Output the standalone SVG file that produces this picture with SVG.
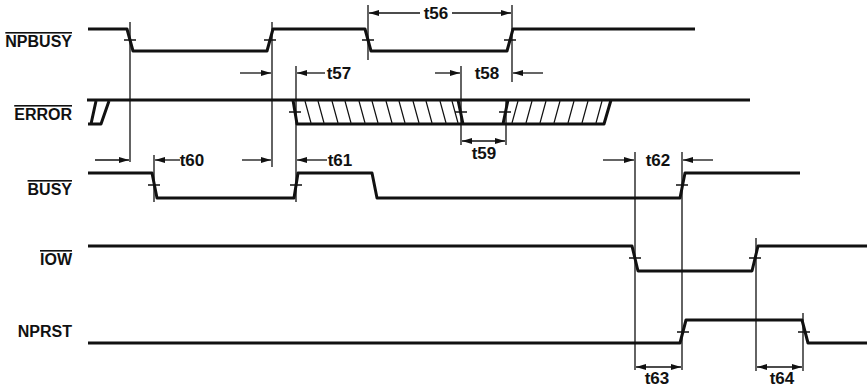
<svg xmlns="http://www.w3.org/2000/svg" width="867" height="391" viewBox="0 0 867 391">
<style>
.sig{fill:none;stroke:#111;stroke-width:3;stroke-linejoin:round;stroke-linecap:butt}
.thin{fill:none;stroke:#111;stroke-width:1.3}
.tick{fill:none;stroke:#111;stroke-width:1.7}
.hatch{fill:none;stroke:#111;stroke-width:1.2}
.arr{fill:none;stroke:#111;stroke-width:1.3}
.name{font-family:"Liberation Sans",Arial,sans-serif;font-weight:bold;font-size:16px;fill:#111;text-anchor:end}
.ov{text-decoration:overline}
.tl{font-family:"Liberation Sans",Arial,sans-serif;font-weight:bold;font-size:17px;fill:#111;text-anchor:middle}
</style>
<defs>
<marker id="ah" viewBox="0 0 10 6" refX="10" refY="3" markerWidth="10" markerHeight="6" markerUnits="userSpaceOnUse" orient="auto-start-reverse">
<path d="M0,0 L10,3 L0,6 Z" fill="#111"/>
</marker>
</defs>
<rect width="867" height="391" fill="#fff"/>

<g id="npbusy">
<text class="name ov" x="72" y="47">NPBUSY</text>
<path class="sig" d="M88,29 H127 L133,51 H267 L273,29 H365 L371,51 H507 L513,29 H695"/>
<path class="tick" d="M124,40 H136 M264,40 H276 M362,40 H374 M504,40 H516"/>
</g>

<g id="error">
<text class="name ov" x="72" y="120">ERROR</text>
<path class="sig" d="M87,100 H750"/>
<path class="sig" stroke-width="2.5" d="M88,124 H101 L109,101 M96,101 L91,124"/>
<path class="sig" d="M293,100 L297,124 H503 L508,100 M458,100 L463,124 M503,124 H604 L611,100"/>
<path class="hatch" d="M305,101 L311,123 M318,101 L324,123 M332,101 L338,123 M345,101 L351,123 M359,101 L365,123 M372,101 L378,123 M386,101 L392,123 M399,101 L405,123 M413,101 L419,123 M426,101 L432,123 M440,101 L446,123 M452,101 L458,123"/>
<path class="hatch" d="M518,101 L512,123 M532,101 L526,123 M546,101 L540,123 M560,101 L554,123 M574,101 L568,123 M588,101 L582,123 M602,101 L596,123"/>
<path class="tick" d="M289,112 H301 M455,112 H467 M499,112 H511"/>
</g>

<g id="busy">
<text class="name ov" x="72" y="195">BUSY</text>
<path class="sig" d="M88,173 H152 L157,198 H294 L298,173 H372 L377,198 H680 L685,173 H800"/>
<path class="tick" d="M148,185 H160 M290,185 H302 M676,185 H688"/>
</g>

<g id="iow">
<text class="name ov" x="72" y="265">IOW</text>
<path class="sig" d="M88,246 H632 L638,271 H752 L758,246 H867"/>
<path class="tick" d="M629,258 H641 M749,258 H761"/>
</g>

<g id="nprst">
<text class="name" x="72" y="337">NPRST</text>
<path class="sig" d="M88,343 H680 L686,320 H802 L808,343 H867"/>
<path class="tick" d="M677,332 H689 M798,332 H810"/>
</g>

<g id="connectors">
<path class="thin" d="M130,22 V162 M272,22 V167 M296,66 V202 M368,5 V60 M512,5 V82 M461,66 V145 M506,100 V145 M154,155 V202 M635,152 V370 M682,152 V370 M756,238 V371 M803,313 V371"/>
<line class="arr" x1="420" y1="13" x2="369" y2="13" marker-end="url(#ah)"/>
<line class="arr" x1="452" y1="13" x2="511" y2="13" marker-end="url(#ah)"/>
<line class="arr" x1="240" y1="73" x2="271" y2="73" marker-end="url(#ah)"/>
<line class="arr" x1="325" y1="73" x2="297" y2="73" marker-end="url(#ah)"/>
<line class="arr" x1="435" y1="73" x2="460" y2="73" marker-end="url(#ah)"/>
<line class="arr" x1="543" y1="73" x2="513" y2="73" marker-end="url(#ah)"/>
<line class="arr" x1="462" y1="141" x2="505" y2="141" marker-start="url(#ah)" marker-end="url(#ah)"/>
<line class="arr" x1="95" y1="160" x2="129" y2="160" marker-end="url(#ah)"/>
<line class="arr" x1="180" y1="160" x2="155" y2="160" marker-end="url(#ah)"/>
<line class="arr" x1="242" y1="160" x2="271" y2="160" marker-end="url(#ah)"/>
<line class="arr" x1="327" y1="160" x2="297" y2="160" marker-end="url(#ah)"/>
<line class="arr" x1="603" y1="160" x2="634" y2="160" marker-end="url(#ah)"/>
<line class="arr" x1="713" y1="160" x2="683" y2="160" marker-end="url(#ah)"/>
<line class="arr" x1="636" y1="367" x2="681" y2="367" marker-start="url(#ah)" marker-end="url(#ah)"/>
<line class="arr" x1="757" y1="367" x2="802" y2="367" marker-start="url(#ah)" marker-end="url(#ah)"/>
</g>

<g id="labels">
<text class="tl" x="436" y="19">t56</text>
<text class="tl" x="339" y="79">t57</text>
<text class="tl" x="487" y="79">t58</text>
<text class="tl" x="484" y="159">t59</text>
<text class="tl" x="192" y="166">t60</text>
<text class="tl" x="340" y="166">t61</text>
<text class="tl" x="658" y="166">t62</text>
<text class="tl" x="657" y="384">t63</text>
<text class="tl" x="782" y="384">t64</text>
</g>
</svg>
